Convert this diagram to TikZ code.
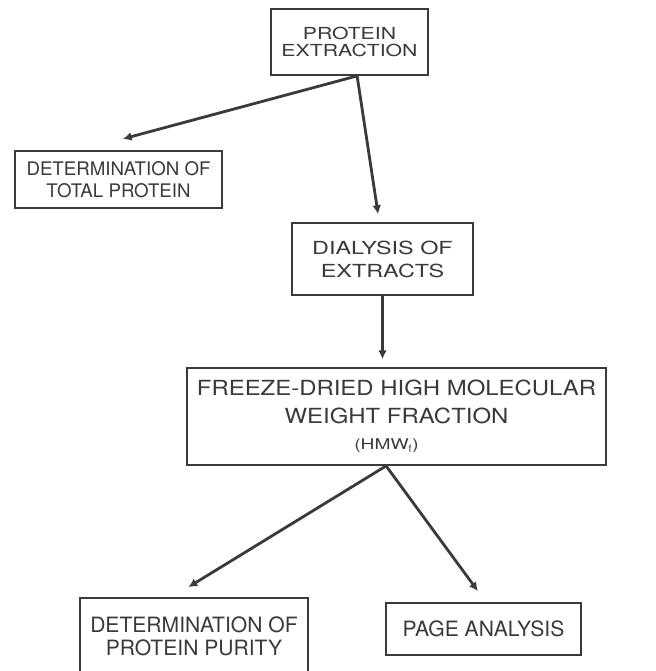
\documentclass[tikz,border=0pt]{standalone}
\usepackage{fontspec}
\setmainfont{TeX Gyre Heros}
\newfontfamily\extrfont[FakeStretch=1.28]{TeX Gyre Heros}
\newfontfamily\dialfont[FakeStretch=1.3]{TeX Gyre Heros}
\newfontfamily\hmwfont[FakeStretch=1.15]{TeX Gyre Heros}
\newfontfamily\subfont[FakeStretch=1.3]{TeX Gyre Heros}
\usetikzlibrary{calc,arrows.meta}
\definecolor{ink}{HTML}{3A3A3A}
\tikzset{
  stagebox/.style={draw=ink, line width=1.3pt, text=ink, align=center,
    inner sep=0pt, font=\fontsize{13.3}{16}\selectfont},
  flowline/.style={draw=ink, line width=2pt, -{Latex[length=2.2mm,width=2.2mm]}}
}
\begin{document}
\begin{tikzpicture}
			%%%%% START %%%%%
			\useasboundingbox[fill=white] (0, 0) rectangle (16.4, -16.775);
			
			\node[stagebox, minimum width=3.925cm, minimum height=1.65cm, font=\extrfont\fontsize{11.8}{11.5}\selectfont] (extr) at (8.7375, -1.05) {PROTEIN\\EXTRACTION};
			\node[stagebox, minimum width=5.175cm, minimum height=1.425cm] (total) at (2.9625, -4.4875) {DETERMINATION OF\\TOTAL PROTEIN};
			\node[stagebox, minimum width=4.525cm, minimum height=1.8cm, font=\dialfont\fontsize{12.8}{16.3}\selectfont] (dial) at (9.5625, -6.475) {DIALYSIS OF\\EXTRACTS};
			\node[stagebox, minimum width=10.475cm, minimum height=2.425cm, font=\hmwfont\fontsize{14.8}{19.8}\selectfont] (hmw) at (9.9125, -10.4125) {FREEZE-DRIED HIGH MOLECULAR\\WEIGHT FRACTION\\[-1pt]{\subfont\fontsize{10.5}{12}\selectfont(HMW$_{\mathrm{f}}$)}\hspace*{0.5cm}};
			\node[stagebox, minimum width=5.7cm, minimum height=1.9cm, font=\fontsize{15}{16.3}\selectfont] (purity) at (4.85, -15.9) {DETERMINATION OF\\PROTEIN PURITY};
			\node[stagebox, minimum width=4.875cm, minimum height=1.3cm, font=\fontsize{15}{17}\selectfont] (page) at (12.0875, -15.725) {PAGE ANALYSIS};
			
			\coordinate (split1) at ($(extr.south)+(0.19, 0)$);
			\coordinate (split2) at ($(hmw.south)+(-0.26, 0)$);
			
			\draw[flowline] (split1) -- ($(total.north)+(0.11, 0.28)$);
			\draw[flowline] (split1) -- ($(dial.north)+(-0.11, 0.2)$);
			\draw[flowline, shorten >=0.2cm] (dial.south) -- (dial.south |- hmw.north);
			\draw[flowline] (split2) -- ($(purity.north)+(-0.14, 0.25)$);
			\draw[flowline] (split2) -- ($(page.north)+(-0.14, 0.275)$);
			%%%%% END %%%%%
\end{tikzpicture}
\end{document}
